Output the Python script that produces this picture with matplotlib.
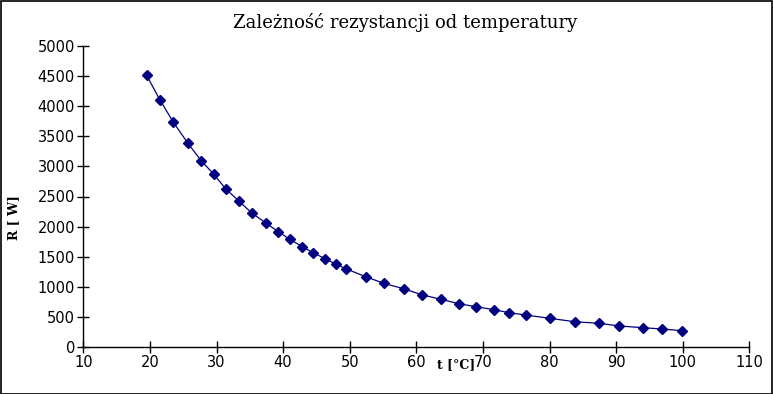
import matplotlib
matplotlib.use("Agg")
import matplotlib.pyplot as plt
from matplotlib.patches import Rectangle

t_values = [19.5, 21.5, 23.5, 25.7, 27.7, 29.6, 31.4, 33.4, 35.3, 37.4, 39.3,
            41.0, 42.9, 44.5, 46.3, 48.0, 49.5, 52.4, 55.1, 58.1, 60.8, 63.7,
            66.4, 69.0, 71.7, 73.9, 76.4, 80.0, 83.8, 87.4, 90.5, 94.0, 96.9, 99.9]
r_values = [4515, 4105, 3738, 3384, 3095, 2869, 2625, 2420, 2226, 2060, 1915,
            1789, 1666, 1566, 1467, 1374, 1296, 1168, 1058, 968, 869, 792,
            719, 669, 620, 570, 532, 477, 420, 394, 349, 321, 299, 271]
x_ticks = [10, 20, 30, 40, 50, 60, 70, 80, 90, 100, 110]
y_ticks = [0, 500, 1000, 1500, 2000, 2500, 3000, 3500, 4000, 4500, 5000]

W, H = 773, 394
fig = plt.figure(figsize=(W / 100, H / 100), dpi=100)
ax = fig.add_axes([83.3 / W, (H - 347) / H, (749.3 - 83.3) / W, (347 - 46) / H])

ax.plot(t_values, r_values, color="#000080", linewidth=0.9, marker="D",
        markersize=4.6, markerfacecolor="#000080", markeredgecolor="#000080")

ax.set_xlim(10, 110)
ax.set_ylim(0, 5000)
ax.set_xticks(x_ticks)
ax.set_yticks(y_ticks)
ax.spines["top"].set_visible(False)
ax.spines["right"].set_visible(False)
for s in ("left", "bottom"):
    ax.spines[s].set_linewidth(1.0)
ax.tick_params(direction="inout", length=8, width=1, labelsize=10.5, pad=2)
for lab in ax.get_xticklabels() + ax.get_yticklabels():
    lab.set_family("DejaVu Sans")

fig.text(405 / W, 1 - 22 / H, "Zależność rezystancji od temperatury",
         ha="center", va="center", fontsize=13, family="DejaVu Serif")
fig.text(456 / W, 1 - 365 / H, "t [°C]", ha="center", va="center",
         fontsize=9, fontweight="bold", family="DejaVu Serif")
fig.text(14 / W, 1 - 218 / H, "R [ W]", ha="center", va="center",
         fontsize=9, fontweight="bold", family="DejaVu Serif", rotation=90)

fig.patches.append(Rectangle((0.5 / W, 0.5 / H), 1 - 1.5 / W, 1 - 1.5 / H,
                             transform=fig.transFigure, fill=False,
                             edgecolor="black", linewidth=1.2))

fig.savefig("out.png", dpi=100)
